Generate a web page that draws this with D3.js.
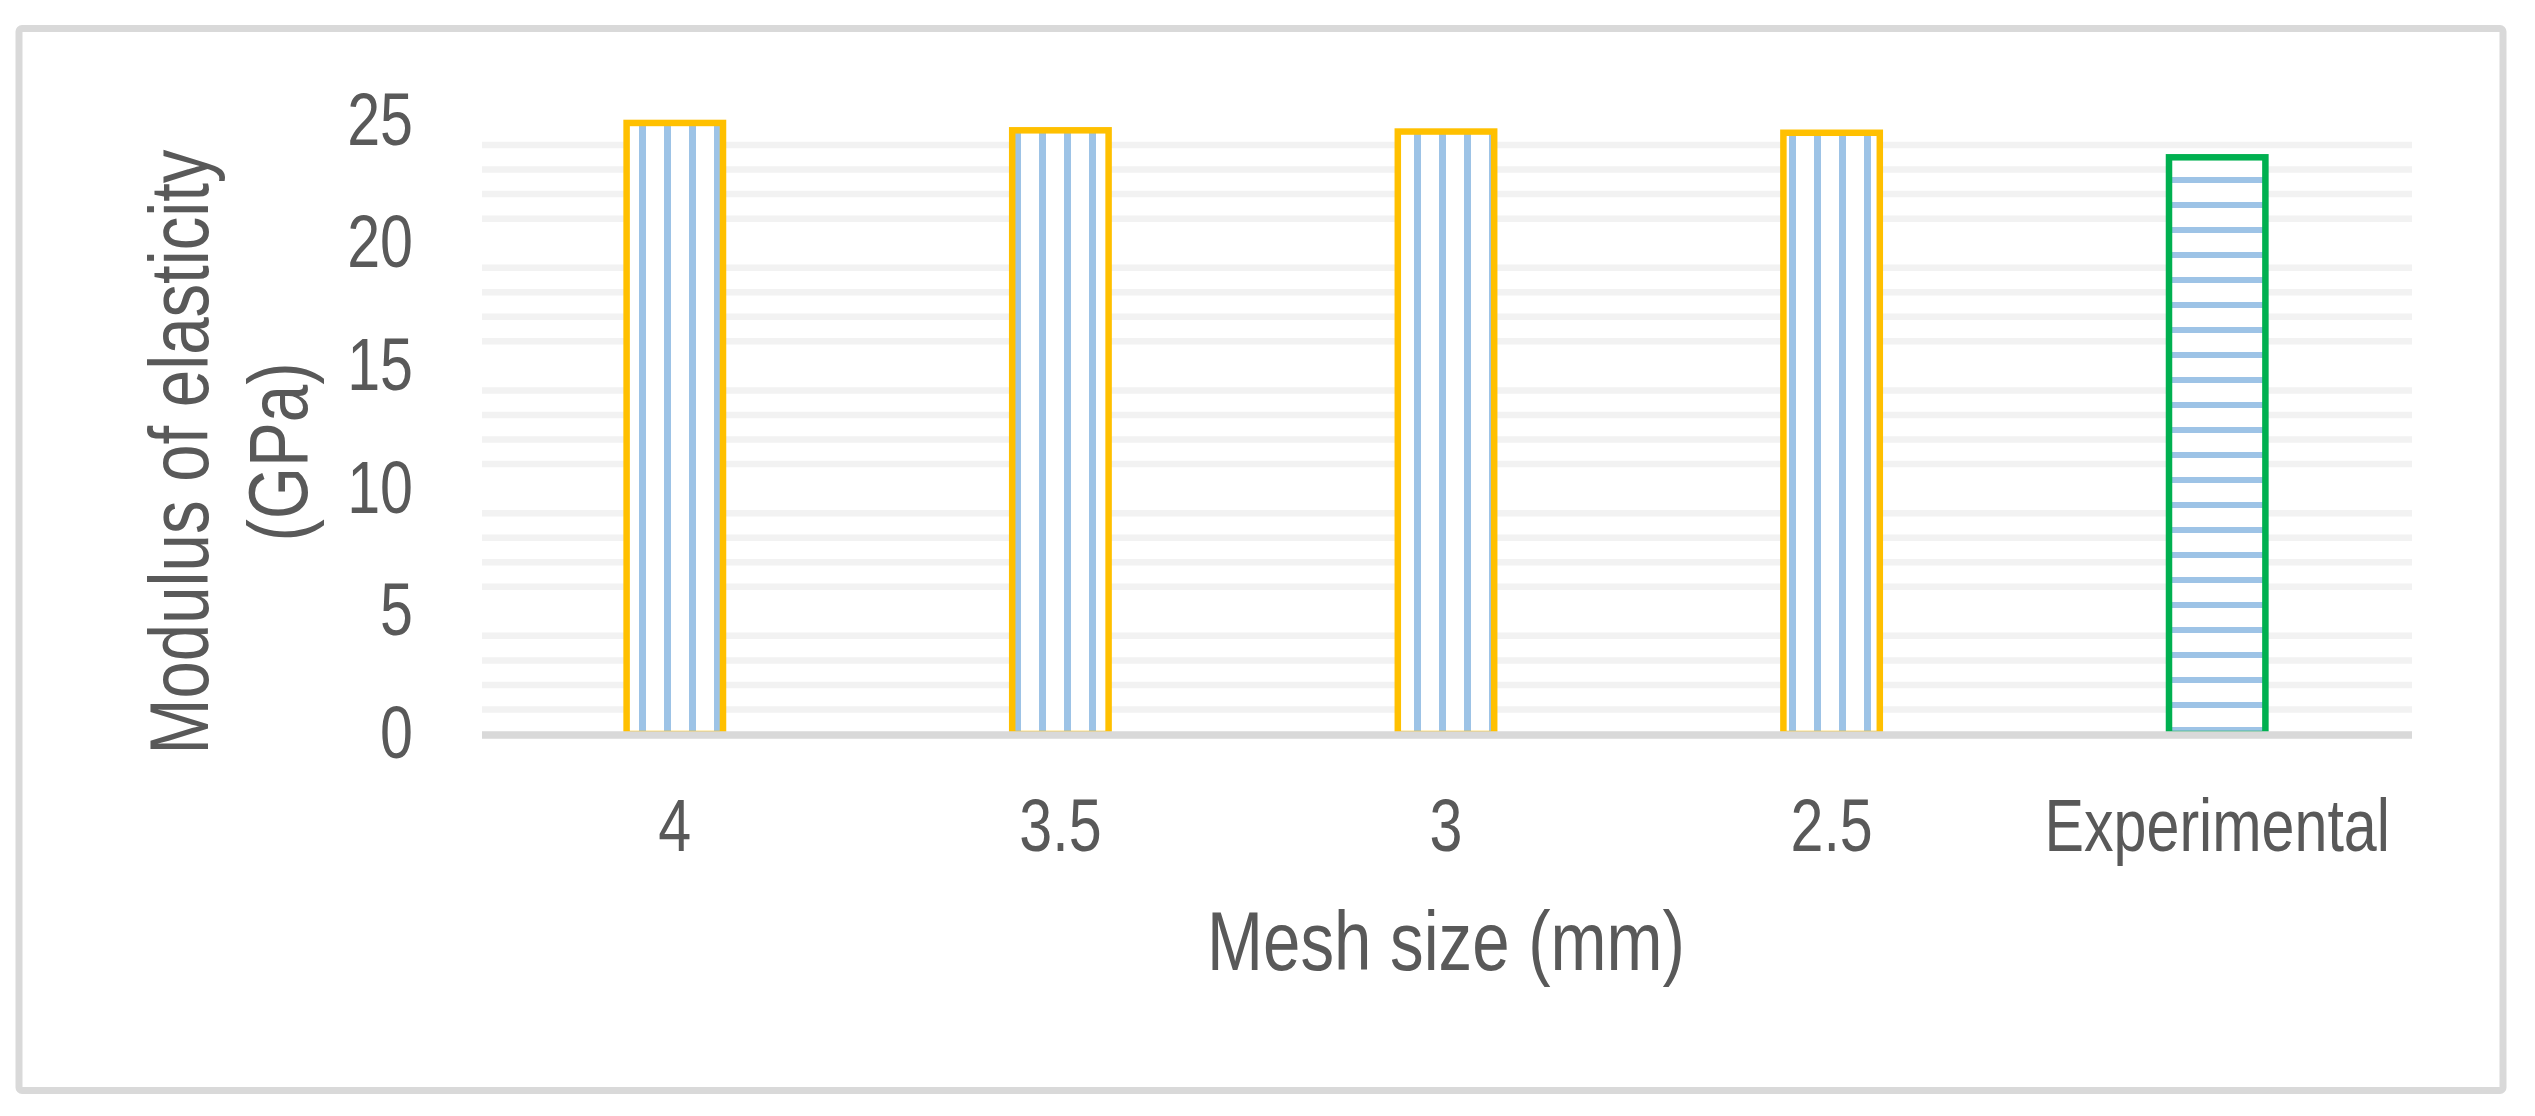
<!DOCTYPE html>
<html>
<head>
<meta charset="utf-8">
<script src="https://cdn.jsdelivr.net/npm/d3@7"></script>
<style>
  html, body { margin: 0; padding: 0; background: #fff; }
  svg { display: block; }
  text { font-family: "Liberation Sans", Arial, sans-serif; fill: #595959; }
</style>
</head>
<body>
<svg></svg>
<script>
// data
var categories = ["4", "3.5", "3", "2.5", "Experimental"];
var values = [24.9, 24.6, 24.55, 24.5, 23.5];
var kinds = ["mesh", "mesh", "mesh", "mesh", "exp"];
var yTicks = [0, 5, 10, 15, 20, 25];
var minorTicks = d3.range(0, 26).filter(function(v) { return v % 5 !== 0; });

var W = 2535, H = 1116;
var narrow = 0.8; // no Arial Narrow here, so squeeze the text horizontally

var svg = d3.select("svg")
    .attr("width", W)
    .attr("height", H);

// patterns (anchored to the page like Excel's)
var defs = svg.append("defs");

var pv = defs.append("pattern")
    .attr("id", "vstripes")
    .attr("patternUnits", "userSpaceOnUse")
    .attr("x", 14).attr("y", 0)
    .attr("width", 25).attr("height", 25);
pv.append("rect").attr("width", 25).attr("height", 25).attr("fill", "#fff");
pv.append("rect").attr("x", 0).attr("y", 0).attr("width", 7).attr("height", 25).attr("fill", "#9dc3e6");

var ph = defs.append("pattern")
    .attr("id", "hstripes")
    .attr("patternUnits", "userSpaceOnUse")
    .attr("x", 0).attr("y", 2)
    .attr("width", 25).attr("height", 25);
ph.append("rect").attr("width", 25).attr("height", 25).attr("fill", "#fff");
ph.append("rect").attr("x", 0).attr("y", 0).attr("width", 25).attr("height", 6).attr("fill", "#9dc3e6");

// chart frame
svg.append("rect")
    .attr("x", 19).attr("y", 28.5)
    .attr("width", 2484).attr("height", 1062)
    .attr("rx", 3)
    .attr("fill", "#fff")
    .attr("stroke", "#d9d9d9")
    .attr("stroke-width", 7);

var x = d3.scaleBand()
    .domain(categories)
    .range([482, 2410])
    .paddingInner(0.75)
    .paddingOuter(0.375);

var y = d3.scaleLinear()
    .domain([0, 25])
    .range([734, 734 - 25 * 24.54]);

// minor gridlines only (major ones are not visible)
svg.append("g").selectAll("line")
    .data(minorTicks)
    .enter().append("line")
    .attr("x1", 482).attr("x2", 2412)
    .attr("y1", function(d) { return y(d); })
    .attr("y2", function(d) { return y(d); })
    .attr("stroke", "#f2f2f2")
    .attr("stroke-width", 6.5);

// bars
svg.append("g").selectAll("rect")
    .data(values)
    .enter().append("rect")
    .attr("x", function(d, i) { return x(categories[i]); })
    .attr("y", function(d) { return y(d); })
    .attr("width", x.bandwidth())
    .attr("height", function(d) { return y(0) - y(d); })
    .attr("fill", function(d, i) { return kinds[i] === "exp" ? "url(#hstripes)" : "url(#vstripes)"; })
    .attr("stroke", function(d, i) { return kinds[i] === "exp" ? "#00b050" : "#ffc000"; })
    .attr("stroke-width", 6.5);

// category axis line
svg.append("line")
    .attr("x1", 482).attr("x2", 2412)
    .attr("y1", 735).attr("y2", 735)
    .attr("stroke", "#d9d9d9")
    .attr("stroke-width", 7.5);

// y axis labels
var yPad = 69;
var yAxis = svg.append("g")
    .attr("transform", "translate(482,0)")
    .call(d3.axisLeft(y).tickValues(yTicks).tickSize(0).tickPadding(yPad));
yAxis.select(".domain").remove();
yAxis.selectAll("text")
    .attr("font-size", 74)
    .attr("fill", "#595959")
    .attr("x", -yPad / narrow)
    .attr("transform", "scale(" + narrow + ",1)")
    .style("font-family", null);

// x axis labels
var xAxis = svg.append("g")
    .attr("transform", "translate(0,734)")
    .call(d3.axisBottom(x).tickSize(0).tickPadding(64));
xAxis.select(".domain").remove();
xAxis.selectAll("text")
    .attr("font-size", 74)
    .attr("fill", "#595959")
    .attr("transform", "scale(" + narrow + ",1)")
    .style("font-family", null);

// axis titles
svg.append("text")
    .attr("transform", "translate(1446,970) scale(" + narrow + ",1)")
    .attr("text-anchor", "middle")
    .attr("font-size", 84)
    .text("Mesh size (mm)");

var yTitle = svg.append("text")
    .attr("transform", "translate(208,452) rotate(-90) scale(" + narrow + ",1)")
    .attr("text-anchor", "middle")
    .attr("font-size", 84);
yTitle.append("tspan").attr("x", 0).attr("y", 0).text("Modulus of elasticity");
yTitle.append("tspan").attr("x", 0).attr("y", 99).text("(GPa)");
</script>
</body>
</html>
